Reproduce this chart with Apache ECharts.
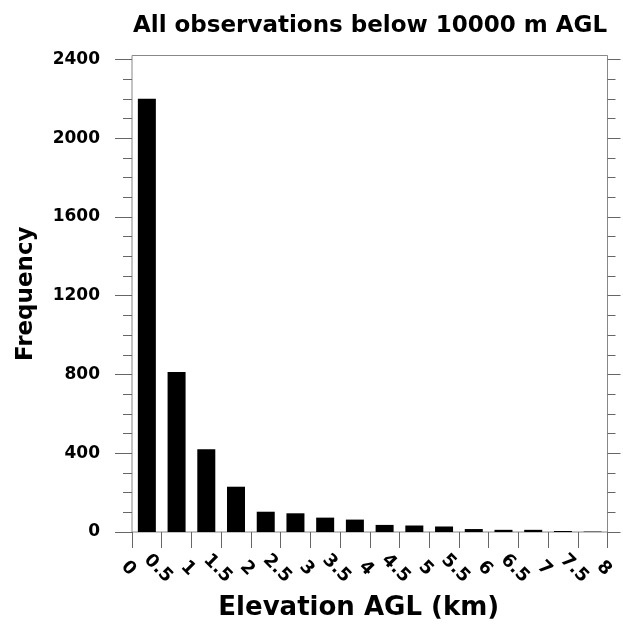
<!DOCTYPE html>
<html>
<head>
<meta charset="utf-8">
<script src="https://cdn.jsdelivr.net/npm/echarts@6/dist/echarts.min.js"></script>
<style>
  html, body { margin: 0; padding: 0; background: #fff; }
  #chart { width: 623px; height: 629px; }
</style>
</head>
<body>
<div id="chart"></div>
<script>
// Histogram of observation heights (0.5 km bins)
const binLower = [0, 0.5, 1, 1.5, 2, 2.5, 3, 3.5, 4, 4.5, 5, 5.5, 6, 6.5, 7, 7.5];
const binWidth = 0.5;
const frequency = [2200, 812, 420, 230, 103, 95, 73, 63, 36, 33, 28, 15, 11, 11, 5, 2];

const xTicks = [0, 0.5, 1, 1.5, 2, 2.5, 3, 3.5, 4, 4.5, 5, 5.5, 6, 6.5, 7, 7.5, 8];
const yTicks = [0, 400, 800, 1200, 1600, 2000, 2400];
const yMinorTicks = [100, 200, 300, 500, 600, 700, 900, 1000, 1100, 1300, 1400, 1500,
                     1700, 1800, 1900, 2100, 2200, 2300];

const titleText = 'All observations below 10000 m AGL';
const xName = 'Elevation AGL (km)';
const yName = 'Frequency';

const FONT = 'DejaVu Sans';
const tickColor = '#666';

const bars = binLower.map((lo, i) => [lo + binWidth / 2, frequency[i]]);

function yAxisDef(position, values, len, withLabels) {
  const ax = {
    type: 'value',
    position: position,
    min: 0,
    max: 2420,
    axisLine: { show: false },
    splitLine: { show: false },
    axisTick: {
      show: true,
      inside: false,
      length: len,
      customValues: values,
      lineStyle: { color: tickColor, width: 1 }
    },
    axisLabel: { show: false }
  };
  if (withLabels) {
    ax.axisLabel = {
      show: true,
      customValues: values,
      formatter: v => String(v),
      margin: 32,
      fontFamily: FONT,
      fontWeight: 'bold',
      fontSize: 17,
      color: '#000'
    };
    ax.name = yName;
    ax.nameLocation = 'middle';
    ax.nameGap = 94;
    ax.nameTextStyle = { fontFamily: FONT, fontWeight: 'bold', fontSize: 23, color: '#000' };
  }
  return ax;
}

const chart = echarts.init(document.getElementById('chart'), null, { renderer: 'canvas' });
chart.setOption({
  animation: false,
  backgroundColor: '#fff',
  title: {
    text: titleText,
    left: 365,
    top: 10,
    textAlign: 'center',
    textStyle: { fontFamily: FONT, fontWeight: 'bold', fontSize: 23, color: '#000' }
  },
  grid: {
    left: 132,
    right: 15.5,
    top: 55.5,
    bottom: 97,
    show: true,
    borderColor: '#888',
    borderWidth: 1,
    backgroundColor: 'transparent'
  },
  xAxis: {
    type: 'value',
    min: 0,
    max: 8,
    interval: 0.5,
    axisLine: { show: false },
    splitLine: { show: false },
    axisTick: { show: true, inside: false, length: 16, lineStyle: { color: tickColor, width: 1 } },
    axisLabel: {
      show: true,
      customValues: xTicks,
      formatter: v => String(v),
      rotate: -45,
      align: 'center',
      verticalAlign: 'middle',
      margin: 40,
      padding: [10, 10, 0, 0],
      fontFamily: FONT,
      fontWeight: 'bold',
      fontSize: 18,
      color: '#000'
    },
    name: xName,
    nameLocation: 'middle',
    nameGap: 63,
    nameTextStyle: {
      fontFamily: FONT, fontWeight: 'bold', fontSize: 26, color: '#000',
      padding: [0, 22, 0, 0]
    }
  },
  yAxis: [
    yAxisDef('left', yTicks, 17, true),
    yAxisDef('left', yMinorTicks, 9, false),
    yAxisDef('right', yTicks, 13, false),
    yAxisDef('right', yMinorTicks, 8, false)
  ],
  series: [{
    type: 'bar',
    xAxisIndex: 0,
    yAxisIndex: 0,
    data: bars,
    barWidth: 18,
    itemStyle: { color: '#000' }
  }]
});
</script>
</body>
</html>
